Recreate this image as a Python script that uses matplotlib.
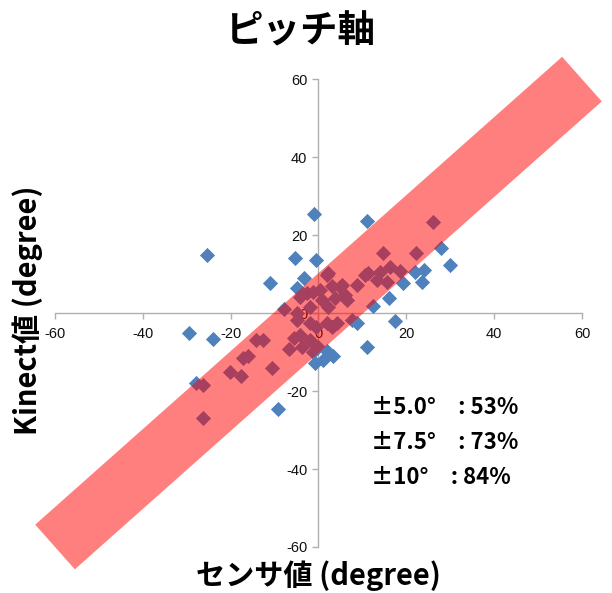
import matplotlib
matplotlib.use("Agg")
import matplotlib.pyplot as plt

plt.rcParams['font.family'] = ['Noto Sans CJK JP', 'DejaVu Sans']

# Sensor angle (x) vs. Kinect angle (y), pitch axis, in degrees
sensor = [
    -25.3, -5.4, -11.0, -3.2, -1.1, -0.5, -29.5, -24.0, -28.0, -9.2,
    1.9, 3.3, 1.0, -0.8, 11.0, 28.0, 30.0, 24.0, 22.0, 23.5,
    19.3, 16.0, 12.5, 8.7, 17.5, 11.0,
    -7.8, -4.9, -14.2, -12.6, -5.6, -6.8, -3.7, -1.2, -17.2, -16.0,
    -20.1, -17.6, -10.6, -26.3, -26.3, 26.0, 14.7, 22.2, 16.3, 14.0,
    11.2, 10.6, 13.3, 15.5, 18.5, 8.7, 5.3, 3.0, 1.9, 2.2,
    6.5, 3.8, 0.8, -1.2, -2.6, -4.9, -4.2, -1.9, 2.2, 0.3,
    -4.9, -1.9, 1.9, 4.2, -0.5, 3.0, -4.2, -1.9, 0.0, 7.6,
    6.0, 4.9,
]
kinect = [
    14.9, 14.0, 7.7, 9.1, 25.5, 13.6, -5.2, -6.7, -18.0, -24.5,
    -9.8, -11.0, -12.0, -12.8, 23.6, 16.7, 12.3, 11.0, 10.4, 8.0,
    7.7, 3.8, 1.8, -2.5, -2.0, -8.7,
    1.0, -1.8, -6.8, -7.0, -6.3, -9.2, -8.6, -10.0, -11.5, -11.0,
    -15.1, -16.2, -14.2, -18.5, -26.9, 23.4, 15.5, 15.4, 11.8, 10.5,
    10.2, 9.7, 8.5, 8.0, 10.8, 7.2, 7.2, 6.9, 9.7, 10.3,
    3.3, 3.8, 3.3, 5.4, 5.1, 6.4, 4.1, 1.5, 1.5, 5.9,
    0.0, -2.6, -2.6, -2.6, -3.6, -3.6, -5.6, -6.9, -8.7, -1.8,
    4.6, 6.7,
]

ticks = [-60, -40, -20, 0, 20, 40, 60]
tick_labels = ['-60', '-40', '-20', '0', '20', '40', '60']
band_ends = [-60, 60]

title = 'ピッチ軸'
xlabel = 'センサ値 (degree)'
ylabel = 'Kinect値 (degree)'
stats = ['±5.0°　: 53%', '±7.5°　: 73%', '±10°　: 84%']

fig = plt.figure(figsize=(6.12, 5.93), dpi=100)
ax = fig.add_axes([0.0899, 0.0776, 0.861, 0.789])

ax.scatter(sensor, kinect, marker='D', s=60, color='#4F81BD',
           linewidths=0, zorder=2)

# Translucent band along y = x
ax.plot(band_ends, band_ends, color='#FF0000', alpha=0.5, lw=43,
        solid_capstyle='butt', clip_on=False, zorder=4)

ax.set_xlim(-60, 60)
ax.set_ylim(-60, 60)
ax.set_xticks(ticks)
ax.set_xticklabels(tick_labels)
ax.set_yticks(ticks)
ax.set_yticklabels(tick_labels)

for side in ['top', 'right']:
    ax.spines[side].set_visible(False)
for side in ['left', 'bottom']:
    ax.spines[side].set_position(('data', 0))
    ax.spines[side].set_color('#B0B0B0')
    ax.spines[side].set_linewidth(1.0)
    ax.spines[side].set_zorder(1)

ax.tick_params(axis='both', direction='out', length=4, width=1,
               color='#B0B0B0', labelsize=10.5, labelcolor='#111111')
ax.tick_params(axis='x', pad=6)
ax.tick_params(axis='y', pad=4)
for lbl in ax.get_xticklabels() + ax.get_yticklabels():
    lbl.set_family(['Liberation Sans', 'DejaVu Sans'])

fig.text(0.49, 0.948, title, ha='center', va='center',
         fontsize=27, fontweight='bold')
fig.text(0.52, 0.03, xlabel, ha='center', va='center',
         fontsize=21, fontweight='bold')
fig.text(0.045, 0.476, ylabel, ha='center', va='center',
         fontsize=21, fontweight='bold', rotation=90)

for i, s in enumerate(stats):
    fig.text(0.607, 0.312 - i * 0.059, s, ha='left', va='center',
             fontsize=16, fontweight='bold')

fig.savefig('out.png', dpi=100)
